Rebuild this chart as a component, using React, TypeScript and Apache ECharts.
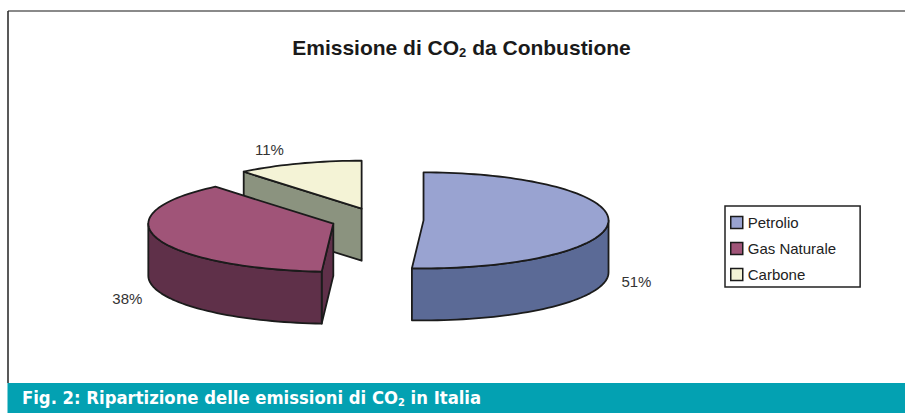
import React, { useEffect, useRef } from "react";
import * as echarts from "echarts";

// ---- data ----
const categories = ["Petrolio", "Gas Naturale", "Carbone"];
const values = [51, 38, 11];
const topColors = ["#99a3d1", "#a05478", "#f4f3d6"];
const sideColors = ["#5b6a96", "#5f3049", "#8b937f"];
const chartTitleParts = ["Emissione di CO", "2", " da Conbustione"];
const captionParts = ["Fig. 2: Ripartizione delle emissioni di CO", "2", " in Italia"];

// ---- layout ----
const CX = 377.3;
const CY = 220;
const RX = 185;
const RY = 48;
const DEPTH = 52;
const EXPLODE = 0.25;
const STROKE = "#1b1b1b";
const LABEL_FONT = '15px "Liberation Sans", Arial, sans-serif';

const rad = (d: number) => (d * Math.PI) / 180;

function sliceGeom(i: number) {
  const total = values.reduce((s, v) => s + v, 0);
  let before = 0;
  for (let k = 0; k < i; k++) before += values[k];
  const a0 = (before / total) * 360;
  const a1 = ((before + values[i]) / total) * 360;
  const mid = (a0 + a1) / 2;
  const scx = CX + EXPLODE * RX * Math.sin(rad(mid));
  const scy = CY - EXPLODE * RY * Math.cos(rad(mid));
  return { a0, a1, mid, scx, scy, pct: Math.round((values[i] / total) * 100) };
}

function makeRenderItem(i: number) {
  return () => {
    const { a0, a1, mid, scx, scy, pct } = sliceGeom(i);
    const pt = (a: number, dz = 0) => [scx + RX * Math.sin(rad(a)), scy - RY * Math.cos(rad(a)) + dz];
    const arc = (s: number, e: number, dz: number) => {
      const n = Math.max(2, Math.ceil(Math.abs(e - s) / 2));
      const pts: number[][] = [];
      for (let j = 0; j <= n; j++) pts.push(pt(s + ((e - s) * j) / n, dz));
      return pts;
    };
    const lineStyle = { stroke: STROKE, lineWidth: 1.8, lineJoin: "round" };
    const children: any[] = [];
    if (Math.sin(rad(a0)) < -1e-6) {
      children.push({
        type: "polygon",
        shape: { points: [[scx, scy], pt(a0), pt(a0, DEPTH), [scx, scy + DEPTH]] },
        style: { fill: sideColors[i], ...lineStyle },
      });
    }
    if (Math.sin(rad(a1)) > 1e-6) {
      children.push({
        type: "polygon",
        shape: { points: [[scx, scy], pt(a1), pt(a1, DEPTH), [scx, scy + DEPTH]] },
        style: { fill: sideColors[i], ...lineStyle },
      });
    }
    const s = Math.max(a0, 90);
    const e = Math.min(a1, 270);
    if (e > s) {
      children.push({
        type: "polygon",
        shape: { points: arc(s, e, 0).concat(arc(e, s, DEPTH)) },
        style: { fill: sideColors[i], ...lineStyle },
      });
    }
    children.push({
      type: "polygon",
      shape: { points: [[scx, scy]].concat(arc(a0, a1, 0)) },
      style: { fill: topColors[i], ...lineStyle },
    });
    const ex = scx + RX * Math.sin(rad(mid));
    const ey = scy - RY * Math.cos(rad(mid));
    const right = Math.sin(rad(mid)) >= 0;
    const front = Math.cos(rad(mid)) < 0;
    children.push({
      type: "text",
      x: ex + (right ? 13 : -15),
      y: front ? ey + DEPTH + 8 : ey - 14,
      style: {
        text: pct + "%",
        fill: "#333",
        font: LABEL_FONT,
        align: right ? "left" : "right",
        verticalAlign: "middle",
      },
    });
    return { type: "group", children };
  };
}

export default function App() {
  const ref = useRef<HTMLDivElement>(null);
  useEffect(() => {
    if (!ref.current) return;
    const chart = echarts.init(ref.current, undefined, { renderer: "svg" });
    const order = categories
      .map((_, i) => ({ i, y: sliceGeom(i).scy }))
      .sort((a, b) => a.y - b.y)
      .map((o) => o.i);
    const series = categories.map((name, i) => ({
      type: "custom",
      name,
      coordinateSystem: "none",
      silent: true,
      z: 2 + order.indexOf(i),
      itemStyle: { color: topColors[i] },
      data: [{ name, value: values[i] }],
      renderItem: makeRenderItem(i),
    }));
    chart.setOption({
      animation: false,
      backgroundColor: "#ffffff",
      color: topColors,
      legend: {
        orient: "vertical",
        left: 725,
        top: 206,
        data: categories,
        icon: "rect",
        itemWidth: 12,
        itemHeight: 12,
        itemGap: 11,
        padding: [9, 24, 5, 5],
        backgroundColor: "#fff",
        borderColor: "#222",
        borderWidth: 1.5,
        selectedMode: false,
        itemStyle: { borderColor: STROKE, borderWidth: 1.5 },
        textStyle: {
          fontSize: 15,
          lineHeight: 15,
          color: "#222",
          fontFamily: '"Liberation Sans", Arial, sans-serif',
        },
      },
      graphic: [
        {
          type: "line",
          shape: { x1: 8, y1: 11, x2: 905, y2: 11 },
          style: { stroke: "#8a8a8a", lineWidth: 2 },
        },
        {
          type: "line",
          shape: { x1: 8, y1: 11, x2: 8, y2: 383 },
          style: { stroke: "#222", lineWidth: 1.5 },
        },
        {
          type: "rect",
          shape: { x: 7.5, y: 383, width: 898, height: 30 },
          style: { fill: "#03a1b2" },
        },
        {
          type: "text",
          x: 461.5,
          y: 47,
          style: {
            text: `{a|${chartTitleParts[0]}}{s|${chartTitleParts[1]}}{a|${chartTitleParts[2]}}`,
            align: "center",
            verticalAlign: "middle",
            rich: {
              a: {
                fontSize: 21,
                fontWeight: "bold",
                fontFamily: '"Liberation Sans", Arial, sans-serif',
                fill: "#1a1a1a",
                lineHeight: 24,
              },
              s: {
                fontSize: 13,
                fontWeight: "bold",
                fontFamily: '"Liberation Sans", Arial, sans-serif',
                fill: "#1a1a1a",
                lineHeight: 13,
                verticalAlign: "bottom",
              },
            },
          },
        },
        {
          type: "text",
          x: 22,
          y: 397,
          style: {
            text: `{a|${captionParts[0]}}{s|${captionParts[1]}}{a|${captionParts[2]}}`,
            align: "left",
            verticalAlign: "middle",
            rich: {
              a: {
                fontSize: 18.3,
                fontWeight: "bold",
                fontFamily: '"Liberation Sans Narrow", "DejaVu Sans Condensed", Arial, sans-serif',
                fill: "#ffffff",
                lineHeight: 22,
              },
              s: {
                fontSize: 11,
                fontWeight: "bold",
                fontFamily: '"Liberation Sans Narrow", "DejaVu Sans Condensed", Arial, sans-serif',
                fill: "#ffffff",
                lineHeight: 12,
                verticalAlign: "bottom",
              },
            },
          },
        },
      ],
      series,
    });
    return () => chart.dispose();
  }, []);
  return (
    <div
      ref={ref}
      style={{ position: "absolute", left: 0, top: 0, width: 905, height: 413 }}
    />
  );
}
